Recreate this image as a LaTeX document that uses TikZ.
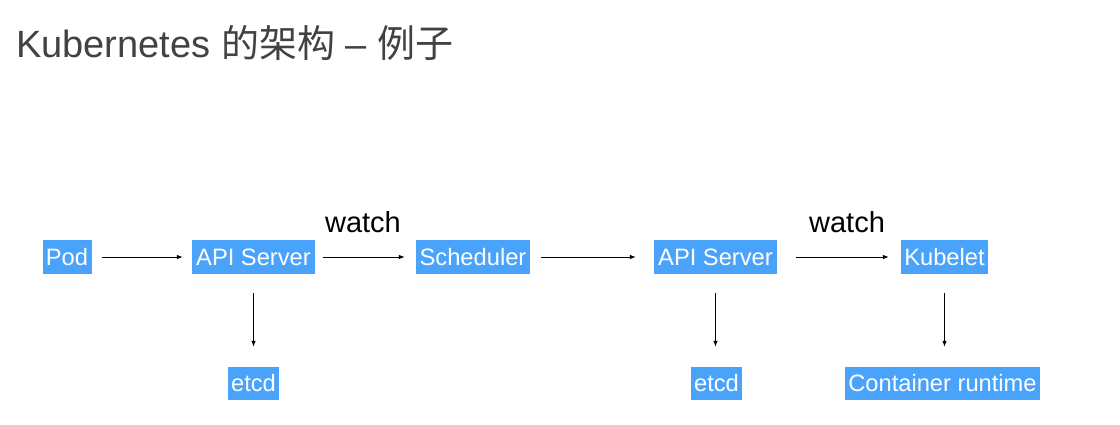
\documentclass[tikz,border=0pt]{standalone}
\usepackage{fontspec}
\setmainfont{Liberation Sans}
\newfontfamily\cjk{Noto Sans CJK SC}
\usetikzlibrary{arrows.meta}
\definecolor{boxblue}{RGB}{74,163,250}
\definecolor{titlegray}{RGB}{64,66,68}
\tikzset{
  kbox/.style={fill=boxblue, text=white, inner sep=0pt, minimum height=34pt, font=\fontsize{23.7}{23.7}\selectfont, anchor=center},
  karrow/.style={-{Latex[length=6pt,width=4.5pt]}, line width=0.8pt, black},
  lbl/.style={font=\fontsize{29}{29}\selectfont, inner sep=0pt, text=black}
}
\begin{document}
\begin{tikzpicture}[x=1pt,y=-1pt]
\useasboundingbox[fill=white] (0,0) rectangle (1120,425);
\node[anchor=base west, inner sep=0pt, text=titlegray, font=\fontsize{38}{38}\selectfont] (title) at (16,58) {Kubernetes {\cjk 的架构} – {\cjk 例子}};
\node[kbox, minimum width=49pt] (pod) at (67,257) {Pod};
\node[kbox, minimum width=123pt] (api1) at (253.5,257) {API Server};
\node[kbox, minimum width=114pt] (sched) at (473,257) {Scheduler};
\node[kbox, minimum width=123pt] (api2) at (715.5,257) {API Server};
\node[kbox, minimum width=87pt] (kub) at (944.5,257) {Kubelet};
\node[kbox, minimum width=51pt, minimum height=33pt] (etcd1) at (253.5,383.5) {etcd};
\node[kbox, minimum width=51pt, minimum height=33pt] (etcd2) at (716.5,383.5) {etcd};
\node[kbox, minimum width=195pt, minimum height=33pt] (cr) at (942.5,383.5) {Container runtime};
\node[lbl] (w1) at (363,222) {watch};
\node[lbl] (w2) at (847,222) {watch};
\draw[karrow, shorten <=10pt, shorten >=9pt] (pod) -- (api1);
\draw[karrow, shorten <=8pt, shorten >=11pt] (api1) -- (sched);
\draw[karrow, shorten <=11pt, shorten >=18pt] (sched) -- (api2);
\draw[karrow, shorten <=19pt, shorten >=12pt] (api2) -- (kub);
\draw[karrow, shorten <=19pt, shorten >=20pt] (api1.south) -- (api1.south |- etcd1.north);
\draw[karrow, shorten <=19pt, shorten >=20pt] (api2.south) -- (api2.south |- etcd2.north);
\draw[karrow, shorten <=19pt, shorten >=20pt] (kub.south) -- (kub.south |- cr.north);
\end{tikzpicture}
\end{document}
